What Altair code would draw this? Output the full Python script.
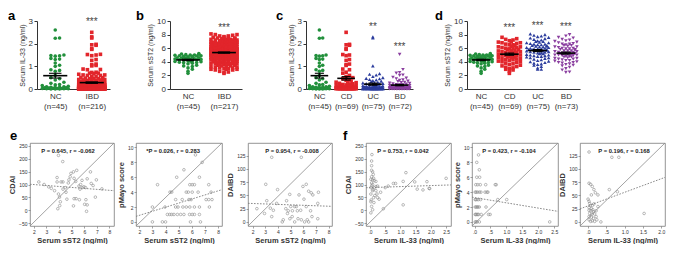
import json
import altair as alt
import pandas as pd

FONT = "Liberation Sans"
INK = "#333333"

# ---------------- data: dot plots (ng/ml) ----------------
NC_IL33 = [2.6, 2.25, 2.24, 1.5, 1.48, 1.47, 1.45, 1.35, 1.32, 1.3, 1.15, 1.05, 1.0, 0.85, 0.82,
           0.78, 0.6, 0.5, 0.45, 0.4, 0.3, 0.25, 0.2, 0.18, 0.15, 0.12, 0.1, 0.1, 0.08, 0.08,
           0.06, 0.05, 0.05, 0.04, 0.03, 0.03, 0.02, 0.02, 0.02, 0.01, 0.01, 0.01, 0.0, 0.0, 0.0]
CD_IL33 = [2.5, 1.97, 1.95, 1.93, 1.78, 1.75, 1.52, 1.5, 1.47, 1.3, 1.26, 1.1, 1.07, 1.04, 0.88,
           0.85, 0.74, 0.7, 0.6, 0.55, 0.5, 0.45, 0.42, 0.38, 0.35, 0.32, 0.3, 0.28, 0.25, 0.23,
           0.2, 0.2, 0.18, 0.17, 0.15, 0.15, 0.13, 0.12, 0.11, 0.1, 0.1, 0.09, 0.08, 0.08, 0.07,
           0.06, 0.06, 0.05, 0.05, 0.04, 0.04, 0.04, 0.03, 0.03, 0.03, 0.02, 0.02, 0.02, 0.02,
           0.01, 0.01, 0.01, 0.01, 0.01, 0.0, 0.0, 0.0, 0.0, 0.0]
UC_IL33 = [2.3, 2.25, 1.02, 0.68, 0.65, 0.62, 0.55, 0.5, 0.47, 0.45, 0.42, 0.4, 0.37, 0.35, 0.33,
           0.3, 0.28, 0.27, 0.25, 0.24, 0.22, 0.2, 0.2, 0.18, 0.17, 0.16, 0.15, 0.14, 0.13, 0.12,
           0.12, 0.11, 0.1, 0.1, 0.09, 0.09, 0.08, 0.08, 0.07, 0.07, 0.06, 0.06, 0.06, 0.05, 0.05,
           0.05, 0.04, 0.04, 0.04, 0.04, 0.03, 0.03, 0.03, 0.03, 0.02, 0.02, 0.02, 0.02, 0.02,
           0.01, 0.01, 0.01, 0.01, 0.01, 0.01, 0.0, 0.0, 0.0, 0.0, 0.0, 0.0, 0.0, 0.0, 0.0, 0.0]
BD_IL33 = [1.53, 0.86, 0.73, 0.7, 0.62, 0.6, 0.52, 0.48, 0.45, 0.4, 0.38, 0.35, 0.33, 0.3, 0.28,
           0.26, 0.25, 0.23, 0.22, 0.2, 0.19, 0.18, 0.17, 0.16, 0.15, 0.14, 0.13, 0.12, 0.11, 0.1,
           0.1, 0.09, 0.09, 0.08, 0.08, 0.07, 0.07, 0.06, 0.06, 0.05, 0.05, 0.05, 0.04, 0.04, 0.04,
           0.03, 0.03, 0.03, 0.03, 0.02, 0.02, 0.02, 0.02, 0.02, 0.01, 0.01, 0.01, 0.01, 0.01, 0.01,
           0.0, 0.0, 0.0, 0.0, 0.0, 0.0, 0.0, 0.0, 0.0, 0.0, 0.0, 0.0]

NC_SST2 = [5.2, 5.15, 5.1, 5.05, 5.0, 5.0, 4.95, 4.9, 4.9, 4.85, 4.8, 4.8, 4.75, 4.7, 4.7, 4.65,
           4.6, 4.6, 4.55, 4.5, 4.5, 4.45, 4.4, 4.4, 4.35, 4.3, 4.3, 4.25, 4.2, 4.15, 4.1, 4.05,
           4.0, 3.95, 3.9, 3.85, 3.8, 3.7, 3.5, 3.4, 3.3, 3.1, 2.9, 2.6, 2.3]
CD_SST2 = [7.6, 7.4, 7.3, 7.2, 7.1, 7.0, 6.9, 6.8, 6.8, 6.7, 6.6, 6.5, 6.5, 6.4, 6.3, 6.2, 6.2,
           6.1, 6.0, 6.0, 5.9, 5.8, 5.8, 5.7, 5.6, 5.6, 5.5, 5.4, 5.4, 5.3, 5.3, 5.2, 5.2, 5.1,
           5.0, 5.0, 4.9, 4.9, 4.8, 4.8, 4.7, 4.7, 4.6, 4.5, 4.5, 4.4, 4.3, 4.3, 4.2, 4.1, 4.0,
           4.0, 3.9, 3.8, 3.7, 3.6, 3.5, 3.4, 3.3, 3.2, 3.1, 3.0, 2.9, 2.8, 2.6, 2.3, 4.6, 5.5, 6.1]
UC_SST2 = [8.1, 8.0, 7.9, 7.8, 7.7, 7.6, 7.5, 7.4, 7.3, 7.2, 7.1, 7.0, 7.0, 6.9, 6.8, 6.8, 6.7,
           6.6, 6.6, 6.5, 6.4, 6.4, 6.3, 6.2, 6.2, 6.1, 6.0, 6.0, 5.9, 5.9, 5.8, 5.8, 5.7, 5.7,
           5.6, 5.6, 5.5, 5.5, 5.4, 5.4, 5.3, 5.3, 5.2, 5.2, 5.1, 5.0, 5.0, 4.9, 4.8, 4.8, 4.7,
           4.6, 4.6, 4.5, 4.4, 4.3, 4.2, 4.1, 4.0, 3.9, 3.8, 3.7, 3.6, 3.5, 3.3, 3.1, 2.9, 2.9,
           5.8, 6.1, 6.5, 5.6, 5.9, 6.3, 4.9]
BD_SST2 = [8.0, 7.8, 7.6, 7.5, 7.3, 7.2, 7.1, 7.0, 6.9, 6.8, 6.7, 6.6, 6.5, 6.4, 6.4, 6.3, 6.2,
           6.1, 6.0, 6.0, 5.9, 5.8, 5.8, 5.7, 5.6, 5.6, 5.5, 5.5, 5.4, 5.4, 5.3, 5.3, 5.2, 5.2,
           5.1, 5.1, 5.0, 5.0, 4.9, 4.9, 4.8, 4.7, 4.7, 4.6, 4.5, 4.5, 4.4, 4.3, 4.2, 4.2, 4.1,
           4.0, 3.9, 3.8, 3.7, 3.6, 3.5, 3.4, 3.2, 3.0, 2.8, 2.5, 2.45, 5.3, 5.6, 4.8, 6.2, 5.0,
           4.4, 5.9, 3.9, 6.6, 5.2]

GROUP_COLORS = {"NC": "#22903c", "IBD": "#e2252b", "CD": "#e2252b", "UC": "#2b3c9d", "BD": "#8a3e9f"}
GROUP_SHAPES = {"NC": "circle", "IBD": "square", "CD": "square", "UC": "triangle-up", "BD": "triangle-down"}

# significance marks: group index, text, height (axis units)
STARS_A_IDX, STARS_A_TXT, STARS_A_Y = [1], ["***"], [3.05]
STARS_B_IDX, STARS_B_TXT, STARS_B_Y = [1], ["***"], [9.4]
STARS_C_IDX, STARS_C_TXT, STARS_C_Y = [2, 3], ["**", "***"], [2.85, 1.97]
STARS_D_IDX, STARS_D_TXT, STARS_D_Y = [1, 2, 3], ["***", "***", "***"], [9.3, 9.6, 9.45]

# ---------------- data: correlation scatter plots ----------------
E1_X = [3.95, 4.29, 2.39, 2.81, 3.17, 3.38, 3.64, 3.84, 3.84, 4.16, 4.31, 4.31, 3.95, 4.03, 4.10,
        4.05, 3.90, 4.49, 4.55, 4.73, 4.88, 4.94, 5.14, 5.40, 5.19, 5.32, 4.62, 5.19, 5.35, 5.61,
        5.14, 5.58, 5.66, 5.71, 5.82, 5.84, 5.97, 6.10, 6.13, 6.03, 6.49, 6.23, 6.55, 6.70, 6.96,
        7.40, 6.88, 6.18, 6.23, 4.78]
E1_Y = [213, 189, 110, 100, 91, 85, 76, 110, 127, 110, 110, 82, 63, 51, 33, 18, 6, 88, 70, 106,
        130, 143, 149, 155, 124, 112, 43, 45, 45, 41, 17, 94, 82, 100, 116, 88, 91, 88, 41, 23,
        149, 122, 104, 96, 118, 83, 51, -4, 21, 118]

E2_X = [6.28, 6.79, 5.4, 4.85, 6.58, 3.39, 5.85, 6.03, 6.2, 7.29, 4.34, 4.47, 5.58, 5.73, 6.03,
        6.48, 7.47, 4.77, 5.27, 5.78, 5.95, 7.09, 7.29, 7.54, 3.0, 3.96, 4.77, 4.95, 5.32, 5.58,
        5.85, 6.2, 6.58, 7.34, 4.14, 4.32, 4.47, 4.64, 4.90, 5.15, 5.40, 5.83, 6.03, 6.2, 6.58,
        3.0, 3.76, 4.0, 5.9, 6.66]
E2_Y = [9, 8, 7, 6, 6, 5, 5, 5, 5, 5, 4, 4, 4, 4, 4, 4, 4, 3, 3, 3, 3, 3, 3, 3, 2, 2, 2, 2, 2, 2,
        2, 2, 2, 2, 1, 1, 1, 1, 1, 1, 1, 1, 1, 1, 1, 0, 0, 0, 0, 0]

E3_X = [3.51, 5.84, 3.04, 3.97, 5.97, 6.23, 6.42, 6.62, 7.19, 5.66, 6.75, 4.93, 3.12, 6.05, 7.14,
        3.9, 2.34, 3.4, 3.64, 3.51, 2.94, 4.68, 4.62, 4.81, 5.01, 5.14, 5.32, 5.45, 5.53, 5.79,
        6.23, 6.57, 6.68, 7.14, 4.42, 4.34, 4.75, 4.94, 5.12, 5.32, 5.84, 6.1, 6.31, 6.42, 5.58]
E3_Y = [122, 122, 71, 61, 67, 71, 58, 55, 56, 51, 51, 52, 40, 43, 35, 35, 25, 26, 22, 10, 16, 40,
        25, 21, 29, 21, 29, 29, 21, 22, 29, 21, 10, 6, 4, 0, 16, 6, 10, 0, 4, 0, 4, 0, 6]

F1_X = [0.065, 0.054, 0.054, 0.054, 0.087, 0.108, 0.054, 0.12, 0.087, 0.14, 0.054, 0.195, 0.087,
        0.25, 0.03, 0.14, 0.087, 0.195, 0.03, 0.23, 0.12, 0.25, 0.30, 0.03, 0.054, 0.087, 0.03,
        0.44, 0.6, 0.77, 0.84, 1.09, 1.18, 1.09, 1.47, 1.55, 1.74, 1.87, 1.94, 1.96, 2.5, 0.03,
        0.06, 0.1, 0.16, 0.2, 0.04, 0.13, 0.35, 0.5]
F1_Y = [216, 191, 173, 155, 149, 139, 130, 124, 118, 115, 106, 112, 100, 94, 88, 88, 76, 76, 63,
        63, 49, 49, 43, 33, 15, 2, -10, 6, 94, 104, 104, 112, 146, 21, 110, 82, 79, 111, 85, 84,
        124, 120, 95, 80, 57, 92, 40, 30, 70, 88]

F2_X = [0.125, 0.07, 0.15, 0.07, 0.16, 0.04, 0.1, 0.18, 0.35, 0.65, 0.68, 0.02, 0.09, 0.15, 0.2,
        0.33, 0.39, 0.42, 0.04, 0.08, 0.125, 0.19, 0.73, 1.01, 0.02, 0.08, 0.15, 0.36, 0.02, 0.07,
        0.125, 0.21, 0.44, 0.49, 0.02, 0.08, 0.15, 2.36, 0.04, 0.1, 0.05, 0.11, 0.02, 0.05, 0.05]
F2_Y = [9, 8, 7, 6, 6, 5, 5, 5, 5, 5, 5, 4, 4, 4, 4, 4, 4, 4, 3, 3, 3, 3, 3, 3, 2, 2, 2, 2, 1, 1,
        1, 1, 1, 1, 0, 0, 0, 0, 1, 1, 2, 2, 3, 0, 4]

F3_X = [0.027, 0.65, 0.84, 0.027, 0.07, 0.115, 0.16, 0.2, 0.27, 0.09, 0.0, 0.027, 0.044, 0.06,
        0.115, 0.16, 0.27, 0.027, 0.09, 0.13, 0.027, 0.08, 0.15, 0.22, 0.044, 0.1, 0.18, 0.027,
        0.09, 0.15, 0.22, 0.027, 0.07, 0.115, 0.18, 0.24, 0.35, 0.58, 0.8, 1.53]
F3_Y = [132, 122, 122, 73, 71, 67, 61, 55, 51, 51, 43, 39, 35, 31, 31, 34, 29, 27, 25, 23, 22, 21,
        19, 21, 16, 14, 15, 10, 9, 7, 10, 4, 1, 2, 1, 4, 0, 61, 57, 16]

STAT_E1, STAT_E2, STAT_E3 = "P = 0.645, r = -0.062", "*P = 0.026, r = 0.283", "P = 0.954, r = -0.008"
STAT_F1, STAT_F2, STAT_F3 = "P = 0.753, r = 0.042", "P = 0.423, r = -0.104", "P = 0.196, r = 0.168"


# ---------------- helpers ----------------
def swarm_positions(values, gi, px_per_unit_y, step_units, marker_px=4.0):
    """Deterministic beeswarm-like horizontal spread of points in rows."""
    slots = [0, 1, -1, 2, -2, 3, -3]
    order = sorted(range(len(values)), key=lambda i: values[i])
    counts = {}
    pos = [0.0] * len(values)
    for i in order:
        b = int(values[i] * px_per_unit_y // marker_px)
        k = counts.get(b, 0)
        counts[b] = k + 1
        rnd, s = divmod(k, len(slots))
        off = slots[s]
        if rnd % 2 == 1:
            off = off + 0.5 if off < 3 else off - 0.5
        pos[i] = gi + off * step_units
    return pos


def dot_panel(groups, series, ymax, yticks, ytitle, width, height,
              star_idx, star_txt, star_y, letter, letter_dx, half_px):
    n = len(groups)
    px_x = width / n
    px_y = height / ymax
    step = (half_px / 3.0) / px_x
    rows = []
    for gi, (g, vals) in enumerate(zip(groups, series)):
        for v, p in zip(vals, swarm_positions(vals, gi, px_y, step)):
            rows.append({"group": g, "gi": gi, "value": v, "pos": p,
                         "col": GROUP_COLORS[g], "shp": GROUP_SHAPES[g]})
    df = pd.DataFrame(rows)
    labels = [[g, "(n=%d)" % len(v)] for g, v in zip(groups, series)]
    xs = alt.Scale(domain=[-0.5, n - 0.5], nice=False, zero=False)
    ys = alt.Scale(domain=[0, ymax], nice=False)
    xaxis = alt.Axis(values=list(range(n)), labelExpr=json.dumps(labels) + "[datum.value]",
                     ticks=False, grid=False, domainColor=INK, domainWidth=1,
                     labelFontSize=8, labelColor=INK, labelLineHeight=10.5, labelPadding=3,
                     labelFlush=False, labelOverlap=False, labelAngle=0)
    yaxis = alt.Axis(values=yticks, grid=False, domainColor=INK, domainWidth=1, tickColor=INK,
                     tickSize=3, labelFontSize=8, labelColor=INK, labelPadding=1.5,
                     labelOverlap=False,
                     titleFontSize=7, titleFontWeight="normal", titleColor=INK, titlePadding=3)

    def X(f):
        return alt.X(f, scale=xs, axis=xaxis, title=None)

    def Y(f):
        return alt.Y(f, scale=ys, axis=yaxis, title=ytitle)

    base = alt.Chart(df)
    pts = base.mark_point(filled=True, size=13, opacity=1, strokeWidth=0).encode(
        x=X("pos:Q"), y=Y("value:Q"),
        color=alt.Color("col:N", scale=None),
        shape=alt.Shape("shp:N", scale=None),
    )
    stats = base.transform_aggregate(
        m="mean(value)", sd="stdev(value)", cnt="count()", groupby=["gi"]
    ).transform_calculate(
        se="datum.sd / sqrt(datum.cnt)", lo="datum.m - datum.se", hi="datum.m + datum.se",
        ml="datum.gi - 0.33", mr="datum.gi + 0.33", cl="datum.gi - 0.17", cr="datum.gi + 0.17",
    )
    mean_rule = stats.mark_rule(color="black", strokeWidth=1.6).encode(
        x=X("ml:Q"), x2="mr:Q", y=Y("m:Q"))
    sem_rule = stats.mark_rule(color="black", strokeWidth=1.1).encode(
        x=X("gi:Q"), y=Y("lo:Q"), y2="hi:Q")
    cap_hi = stats.mark_rule(color="black", strokeWidth=1.1).encode(
        x=X("cl:Q"), x2="cr:Q", y=Y("hi:Q"))
    cap_lo = stats.mark_rule(color="black", strokeWidth=1.1).encode(
        x=X("cl:Q"), x2="cr:Q", y=Y("lo:Q"))
    sdf = pd.DataFrame({"gi": star_idx, "t": star_txt, "y": star_y})
    stars = alt.Chart(sdf).mark_text(fontSize=10, color="#444444", dy=2.5, baseline="middle").encode(
        x=X("gi:Q"), y=Y("y:Q"), text="t:N")
    let = alt.Chart(pd.DataFrame({"t": [letter]})).mark_text(
        fontSize=13, fontWeight="bold", align="left", baseline="alphabetic", color="black"
    ).encode(x=alt.value(letter_dx), y=alt.value(-1), text="t:N")
    return alt.layer(pts, mean_rule, sem_rule, cap_hi, cap_lo, stars, let).properties(
        width=width, height=height)


def scatter_panel(xv, yv, xdom, ydom, xticks, yticks, xtitle, ytitle, stat, stat_x,
                  width, height, letter=None, letter_dx=0, il33=False):
    df = pd.DataFrame({"x": xv, "y": yv})
    xs = alt.Scale(domain=xdom, nice=False, zero=False)
    ys = alt.Scale(domain=ydom, nice=False, zero=False)
    xaxis_kw = dict(values=xticks, grid=False, domain=False, tickColor="#666666", tickSize=2,
                    tickWidth=0.6, labelFontSize=5, labelColor=INK, labelPadding=1,
                    labelFlush=False, labelOverlap=False, titleFontSize=7.5,
                    titleFontWeight="bold", titleColor=INK, titlePadding=2)
    if il33:
        xaxis_kw["labelExpr"] = ("datum.value < 1 ? replace(format(datum.value, '.1f'), '0.', '.')"
                                 " : format(datum.value, '.1f')")
    xaxis = alt.Axis(**xaxis_kw)
    yaxis = alt.Axis(values=yticks, grid=False, domain=False, tickColor="#666666", tickSize=2,
                     tickWidth=0.6, labelFontSize=5, labelColor=INK, labelPadding=1,
                     labelOverlap=False, titleFontSize=7.5, titleFontWeight="bold",
                     titleColor=INK, titlePadding=2)

    def X(f):
        return alt.X(f, scale=xs, axis=xaxis, title=xtitle)

    def Y(f):
        return alt.Y(f, scale=ys, axis=yaxis, title=ytitle)

    pts = alt.Chart(df).mark_point(shape="circle", filled=False, size=7, strokeWidth=0.6,
                                   color="#8a8a8a", opacity=1).encode(x=X("x:Q"), y=Y("y:Q"))
    diag_df = pd.DataFrame({"x": [xdom[0]], "y": [ydom[0]], "x2": [xdom[1]], "y2": [ydom[1]]})
    diag = alt.Chart(diag_df).mark_rule(color="#8c8c8c", strokeWidth=0.8).encode(
        x=X("x:Q"), y=Y("y:Q"), x2="x2:Q", y2="y2:Q")
    reg = alt.Chart(df).transform_regression("x", "y", extent=xdom).mark_line(
        color="#7d7d7d", strokeWidth=0.9, strokeDash=[1.6, 1.4], clip=True).encode(
        x=X("x:Q"), y=Y("y:Q"))
    txt = alt.Chart(pd.DataFrame({"t": [stat]})).mark_text(
        fontSize=5.8, fontWeight="bold", align="center", baseline="middle", color="#222222"
    ).encode(x=alt.value(stat_x), y=alt.value(8), text="t:N")
    layers = [pts, diag, reg, txt]
    if letter:
        layers.append(alt.Chart(pd.DataFrame({"t": [letter]})).mark_text(
            fontSize=13, fontWeight="bold", align="left", baseline="alphabetic", color="black"
        ).encode(x=alt.value(letter_dx), y=alt.value(-3), text="t:N"))
    return alt.layer(*layers).properties(
        width=width, height=height,
        view=alt.ViewBackground(stroke="#7a7a7a", strokeWidth=0.8))


def spacer(w):
    return alt.Chart(pd.DataFrame({"v": [0]})).mark_point(opacity=0).encode(
        x=alt.value(0), y=alt.value(0)).properties(width=w, height=1)


# ---------------- panels ----------------
TOP_H = 68
IL_TICKS = [0, 1, 2, 3]
ST_TICKS = [0, 2, 4, 6, 8, 10]

pa = dot_panel(["NC", "IBD"], [NC_IL33, CD_IL33 + UC_IL33 + BD_IL33], 3, IL_TICKS,
               "Serum IL-33 (ng/ml)", 73, TOP_H, STARS_A_IDX, STARS_A_TXT, STARS_A_Y, "a", -29, 13)
pb = dot_panel(["NC", "IBD"], [NC_SST2, CD_SST2 + UC_SST2 + BD_SST2], 10, ST_TICKS,
               "Serum sST2 (ng/ml)", 72, TOP_H, STARS_B_IDX, STARS_B_TXT, STARS_B_Y, "b", -34, 13)
pc = dot_panel(["NC", "CD", "UC", "BD"], [NC_IL33, CD_IL33, UC_IL33, BD_IL33], 3, IL_TICKS,
               "Serum IL-33 (ng/ml)", 107, TOP_H, STARS_C_IDX, STARS_C_TXT, STARS_C_Y, "c", -30, 10)
pd_ = dot_panel(["NC", "CD", "UC", "BD"], [NC_SST2, CD_SST2, UC_SST2, BD_SST2], 10, ST_TICKS,
                "Serum sST2 (ng/ml)", 113, TOP_H, STARS_D_IDX, STARS_D_TXT, STARS_D_Y, "d", -32, 11)

BH = 83
CDAI_DOM, MAYO_DOM, DAIBD_DOM = [-61, 261], [-0.55, 10.6], [-7.7, 149]
CDAI_T = [-50, 0, 50, 100, 150, 200, 250]
MAYO_T = [0, 2, 4, 6, 8, 10]
DAIBD_T = [0, 25, 50, 75, 100, 125]
ST_X_T = [2, 3, 4, 5, 6, 7, 8]
IL_X_T = [0, 0.5, 1.0, 1.5, 2.0, 2.5]

e1 = scatter_panel(E1_X, E1_Y, [1.69, 8.36], CDAI_DOM, ST_X_T, CDAI_T, "Serum sST2 (ng/ml)", "CDAI",
                   STAT_E1, 38, 84, BH, "e", -20)
e2 = scatter_panel(E2_X, E2_Y, [1.75, 8.3], MAYO_DOM, ST_X_T, MAYO_T, "Serum sST2 (ng/ml)",
                   "pMayo score", STAT_E2, 37, 86, BH)
e3 = scatter_panel(E3_X, E3_Y, [1.64, 8.26], DAIBD_DOM, ST_X_T, DAIBD_T, "Serum sST2 (ng/ml)",
                   "DAIBD", STAT_E3, 44, 84, BH)
f1 = scatter_panel(F1_X, F1_Y, [-0.13, 2.66], CDAI_DOM, IL_X_T, CDAI_T, "Serum IL-33 (ng/ml)",
                   "CDAI", STAT_F1, 37, 85, BH, "f", -23, il33=True)
f2 = scatter_panel(F2_X, F2_Y, [-0.08, 2.62], MAYO_DOM, IL_X_T, MAYO_T, "Serum IL-33 (ng/ml)",
                   "pMayo score", STAT_F2, 37, 86, BH, il33=True)
f3 = scatter_panel(F3_X, F3_Y, [-0.22, 2.1], DAIBD_DOM, IL_X_T[:-1], DAIBD_T, "Serum IL-33 (ng/ml)",
                   "DAIBD", STAT_F3, 44, 85, BH, il33=True)

top = alt.hconcat(spacer(7), pa, spacer(60), pb, spacer(64), pc, spacer(54), pd_,
                  spacing=0, bounds="flush")
bottom = alt.hconcat(e1, spacer(22), e2, spacer(26), e3, spacer(34), f1, spacer(21), f2,
                     spacer(22), f3, spacing=0, bounds="flush")

chart = alt.vconcat(top, bottom, spacing=18).properties(
    padding={"top": 2, "left": 0, "right": 0, "bottom": 0}
).configure(font=FONT).configure_view(strokeWidth=0).configure_axis(labelOverlap=False)

chart.save("out.html", embed_options={"renderer": "svg", "actions": False})
